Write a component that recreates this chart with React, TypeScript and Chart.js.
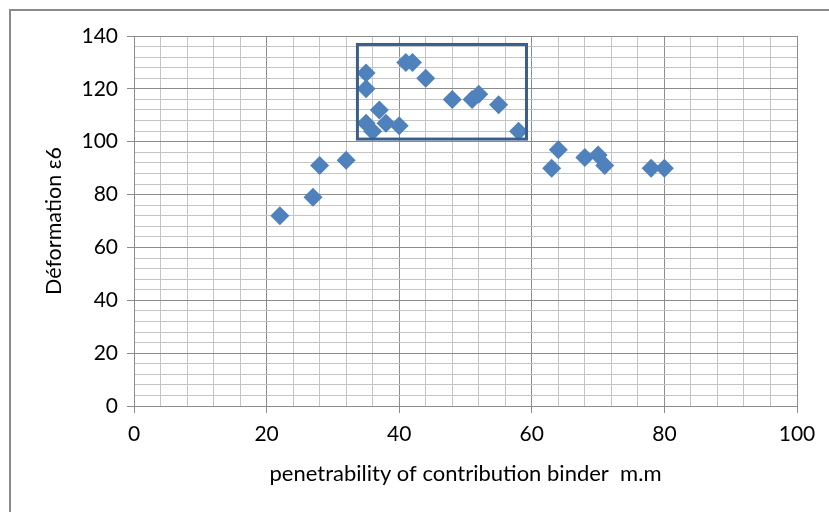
import React, { useEffect, useRef } from "react";
import { Chart, registerables } from "chart.js";

Chart.register(...registerables);

const xValues = [22, 27, 28, 32, 35, 35, 35, 36, 37, 38, 40, 41, 42, 44, 48, 51, 52, 55, 58, 63, 64, 68, 70, 71, 78, 80];
const yValues = [72, 79, 91, 93, 126, 120, 107, 104, 112, 107, 106, 130, 130, 124, 116, 116, 118, 114, 104, 90, 97, 94, 95, 91, 90, 90];
const boxX = [33.7, 59.2];
const boxY = [101, 136.8];
const xTitle = "penetrability of contribution binder  m.m";
const yTitle = "Déformation ε6";

const FONT = "Lato";
const MAJOR = "#8c8c8c";
const MINOR = "#c4c4c4";

const decorPlugin = {
  id: "decor",
  beforeDraw(chart: any) {
    const ctx = chart.ctx;
    ctx.save();
    ctx.fillStyle = "#ffffff";
    ctx.fillRect(0, 0, chart.width, chart.height);
    ctx.strokeStyle = "#8a8a8a";
    ctx.lineWidth = 2;
    ctx.strokeRect(10, 10, chart.width + 20, chart.height + 20);
    ctx.restore();
  },
  afterDatasetsDraw(chart: any) {
    const { ctx, scales } = chart;
    const x1 = scales.x.getPixelForValue(boxX[0]);
    const x2 = scales.x.getPixelForValue(boxX[1]);
    const y1 = scales.y.getPixelForValue(boxY[1]);
    const y2 = scales.y.getPixelForValue(boxY[0]);
    ctx.save();
    ctx.strokeStyle = "#3a5f8d";
    ctx.lineWidth = 3;
    ctx.strokeRect(x1, y1, x2 - x1, y2 - y1);
    ctx.restore();
  },
};

export default function App() {
  const ref = useRef<HTMLCanvasElement>(null);
  useEffect(() => {
    if (!ref.current) return;
    const points = xValues.map((x, i) => ({ x, y: yValues[i] }));
    const chart = new Chart(ref.current, {
      type: "scatter",
      data: {
        datasets: [
          {
            data: points,
            pointStyle: "rectRot",
            pointRadius: 9.5,
            backgroundColor: "#4F81BD",
            borderColor: "#4A7EBB",
            borderWidth: 0,
          },
        ],
      },
      options: {
        animation: false,
        responsive: false,
        devicePixelRatio: 1,
        layout: { padding: { top: 36, right: 32, left: 0, bottom: 0 } },
        plugins: { legend: { display: false }, tooltip: { enabled: false } },
        scales: {
          x: {
            type: "linear",
            min: 0,
            max: 100,
            afterFit: (s: any) => {
              s.height = 106;
            },
            ticks: {
              stepSize: 4,
              autoSkip: false,
              maxRotation: 0,
              padding: 9,
              color: "#000",
              font: { family: FONT, size: 21 },
              callback: (v: any) => (Number(v) % 20 === 0 ? String(v) : ""),
            },
            grid: {
              color: (c: any) => (c.tick && c.tick.value % 20 === 0 ? MAJOR : MINOR),
              tickColor: (c: any) => (c.tick && c.tick.value % 20 === 0 ? MAJOR : "rgba(0,0,0,0)"),
              tickLength: 7,
              lineWidth: 1,
            },
            border: { display: true, color: MAJOR, width: 1 },
            title: {
              display: true,
              text: xTitle,
              color: "#000",
              font: { family: FONT, size: 22 },
              padding: { top: 0, bottom: 25 },
            },
          },
          y: {
            type: "linear",
            min: 0,
            max: 140,
            afterFit: (s: any) => {
              s.width = 134;
            },
            ticks: {
              stepSize: 4,
              autoSkip: false,
              padding: 9,
              color: "#000",
              font: { family: FONT, size: 21 },
              callback: (v: any) => (Number(v) % 20 === 0 ? String(v) : ""),
            },
            grid: {
              color: (c: any) => (c.tick && c.tick.value % 20 === 0 ? MAJOR : MINOR),
              tickColor: (c: any) => (c.tick && c.tick.value % 20 === 0 ? MAJOR : "rgba(0,0,0,0)"),
              tickLength: 7,
              lineWidth: 1,
            },
            border: { display: true, color: MAJOR, width: 1 },
            title: {
              display: true,
              text: yTitle,
              color: "#000",
              font: { family: FONT, size: 21.5 },
              padding: { top: 41, bottom: 41 },
            },
          },
        },
      },
      plugins: [decorPlugin],
    });
    return () => chart.destroy();
  }, []);
  return (
    <div style={{ position: "fixed", left: 0, top: 0, width: 829, height: 512, background: "#fff" }}>
      <canvas ref={ref} width={829} height={512} style={{ display: "block", width: 829, height: 512 }} />
    </div>
  );
}
